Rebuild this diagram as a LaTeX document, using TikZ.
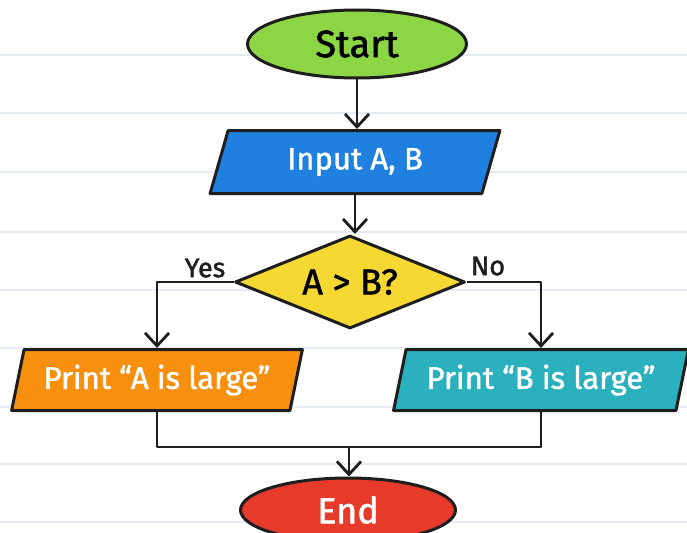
\documentclass[tikz,border=0pt]{standalone}
\usepackage{fontspec}
\setmainfont{Fira Sans}[FakeBold=1.2]
\newfontfamily\labelfont{Fira Sans}[FakeBold=1.4]
\usetikzlibrary{shapes.geometric,arrows.meta}
\definecolor{ruleline}{HTML}{E6ECF5}
\definecolor{ink}{HTML}{1E1E1E}
\definecolor{startgreen}{HTML}{8CD646}
\definecolor{inputblue}{HTML}{1F80E0}
\definecolor{decyellow}{HTML}{F6D832}
\definecolor{printorange}{HTML}{F7900F}
\definecolor{printteal}{HTML}{2BB0BE}
\definecolor{endred}{HTML}{E63A2B}
\tikzset{
  shapeline/.style={draw=ink, line width=3pt, line join=round},
  terminal/.style={shapeline, ellipse, inner sep=0pt, font=\labelfont\fontsize{38}{42}\selectfont},
  iobox/.style={shapeline, trapezium, trapezium left angle=71, trapezium right angle=109,
    trapezium stretches=true, inner sep=0pt, text=white, font=\labelfont\fontsize{31}{35}\selectfont},
  decision/.style={shapeline, diamond, shape aspect=2.5, inner sep=0pt, font=\labelfont\fontsize{36}{40}\selectfont},
  flow/.style={draw=ink, line width=2.8pt, line join=round},
  arr/.style={flow, -{Straight Barb[length=13pt,width=24pt,line width=2.8pt]}},
  branchlabel/.style={font=\labelfont\fontsize{27}{30}\selectfont, text=ink}
}
\begin{document}
\begin{tikzpicture}[x=1pt,y=-1pt]
  % page and ruled background
  \path[use as bounding box, fill=white] (0,0) rectangle (687,532);
  \clip (0,0) rectangle (687,532);
  \foreach \yy in {55,113,172,232,290,348,407,464,522}
    \draw[ruleline, line width=1.8pt] (0,\yy) -- (687,\yy);

  % flowchart shapes
  \node[terminal, fill=startgreen, minimum width=219pt, minimum height=68pt] (start) at (357,44) {Start};
  \node[iobox, fill=inputblue, minimum width=290pt, minimum height=63pt] (input) at (355,162) {Input A, B};
  \node[decision, fill=decyellow, minimum width=230pt, minimum height=93pt] (dec) at (350,282) {A > B?};
  \node[iobox, fill=printorange, minimum width=291pt, minimum height=61pt] (pa) at (157,380) {Print “A is large”};
  \node[iobox, fill=printteal, minimum width=295pt, minimum height=61pt] (pb) at (541,380) {Print “B is large”};
  \node[terminal, fill=endred, text=white, minimum width=215pt, minimum height=64pt,
        font=\labelfont\fontsize{36}{40}\selectfont] (end) at (348,510) {End};

  % branch labels
  \node[branchlabel] (yes) at (205,268) {Yes};
  \node[branchlabel] (no) at (488,266) {No};

  % connectors
  \draw[arr] (start.south) -- (start.south |- input.north);
  \draw[arr] (input.south) -- (input.south |- dec.north);
  \draw[arr] (dec.west) -| (pa.north);
  \draw[arr] (dec.east) -| (pb.north);
  \coordinate (join) at (349,447);
  \draw[flow] (pa.south) |- (join) -| (pb.south);
  \draw[arr] (join) -- (join |- end.north);
\end{tikzpicture}
\end{document}
